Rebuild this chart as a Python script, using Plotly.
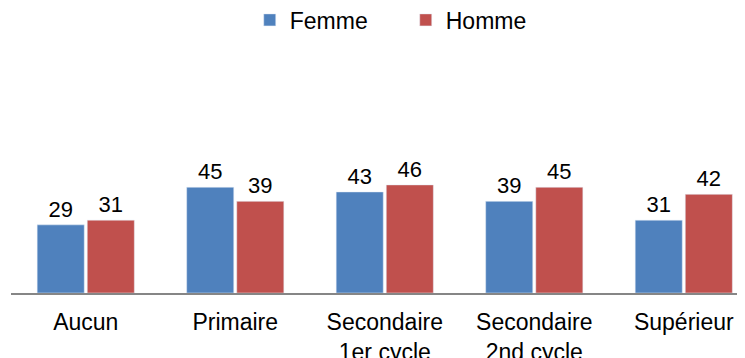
import plotly.graph_objects as go

categories = ["Aucun", "Primaire", "Secondaire<br>1er cycle", "Secondaire<br>2nd cycle", "Supérieur"]
femme = [29, 45, 43, 39, 31]
homme = [31, 39, 46, 45, 42]

font = "Liberation Sans, Arial, sans-serif"

fig = go.Figure()
fig.add_trace(go.Bar(name="Femme", x=categories, y=femme, marker_color="#4F81BD",
                     text=femme, textposition="outside", cliponaxis=False,
                     textfont=dict(size=22, color="#000000", family=font)))
fig.add_trace(go.Bar(name="Homme", x=categories, y=homme, marker_color="#C0504D",
                     text=homme, textposition="outside", cliponaxis=False,
                     textfont=dict(size=22, color="#000000", family=font)))

fig.update_layout(
    width=745, height=358,
    margin=dict(l=3, r=0, t=50, b=73, autoexpand=False),
    paper_bgcolor="white", plot_bgcolor="white",
    barmode="group", bargap=0.33, bargroupgap=0.06,
    font=dict(family=font, size=23, color="#000000"),
    legend=dict(orientation="h", x=0.532, xanchor="center", y=1.162, yanchor="middle",
                font=dict(size=23), itemwidth=30, entrywidth=111, entrywidthmode="pixels",
                traceorder="normal"),
    showlegend=True,
)
fig.update_xaxes(range=[-0.5, 4.463], showline=True, linecolor="#868686", linewidth=1.5,
                 ticks="", tickfont=dict(size=23), ticklabelstandoff=8, showgrid=False,
                 automargin=False)
fig.update_yaxes(range=[0, 100], visible=False, showgrid=False, automargin=False)

fig.write_html("out.html")
